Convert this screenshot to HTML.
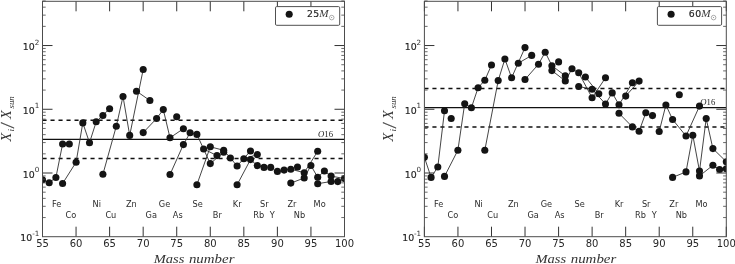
<!DOCTYPE html>
<html><head><meta charset="utf-8"><title>Abundance plots</title>
<style>
html,body{margin:0;padding:0;background:#fff;}
body{width:735px;height:264px;overflow:hidden;}
svg{display:block;}
.tk{font-family:"DejaVu Sans","Liberation Sans",sans-serif;font-size:10px;fill:#262626;}
.tky{font-family:"DejaVu Sans","Liberation Sans",sans-serif;font-size:9.4px;fill:#222;stroke:#222;stroke-width:0.15px;}
.sup{font-family:"DejaVu Sans","Liberation Sans",sans-serif;font-size:7.2px;fill:#2e2e2e;}
.el{font-family:"DejaVu Sans","Liberation Sans",sans-serif;font-size:8.2px;fill:#2c2c2c;}
.lg{font-family:"DejaVu Sans","Liberation Sans",sans-serif;font-size:9.3px;letter-spacing:0.45px;fill:#262626;stroke:#262626;stroke-width:0.2px;}
.lgm{font-family:"Liberation Serif",serif;font-style:italic;font-size:10.6px;fill:#3a3a3a;}
.o16{font-family:"Liberation Serif",serif;font-size:8.7px;fill:#222;}
.ax{font-family:"Liberation Serif",serif;font-style:italic;font-size:13.6px;fill:#333;}
.sl{font-family:"Liberation Serif",serif;font-style:italic;font-size:19.4px;fill:#333;stroke:#333;stroke-width:0.25px;}
.axs{font-family:"Liberation Serif",serif;font-style:italic;font-size:8.8px;fill:#2a2a2a;}
.axl{font-family:"Liberation Serif",serif;font-style:italic;font-size:13.3px;fill:#333;}
</style></head><body>
<svg width="735" height="264" viewBox="0 0 735 264">
<rect width="735" height="264" fill="#fff"/>
<clipPath id="c42"><rect x="42.5" y="1.3" width="302.0" height="235.39999999999998"/></clipPath>
<g clip-path="url(#c42)">
<line x1="42.5" x2="344.5" y1="139.4" y2="139.4" stroke="#111" stroke-width="1.25"/>
<line x1="42.5" x2="344.5" y1="120.2" y2="120.2" stroke="#111" stroke-width="1.5" stroke-dasharray="4.1 3.9"/>
<line x1="42.5" x2="344.5" y1="158.6" y2="158.6" stroke="#111" stroke-width="1.5" stroke-dasharray="4.1 3.9"/>
<polyline points="42.5,179.7 49.2,182.7 55.9,177.5 62.6,144.0" fill="none" stroke="#303030" stroke-width="0.9"/>
<polyline points="62.6,183.5 76.1,162.2 82.8,122.9 89.5,142.7 96.2,121.8 109.6,108.7" fill="none" stroke="#303030" stroke-width="0.9"/>
<polyline points="102.9,174.3 116.3,126.2 123.0,96.5 129.7,135.4 143.2,69.5" fill="none" stroke="#303030" stroke-width="0.9"/>
<polyline points="136.5,91.2 149.9,100.5" fill="none" stroke="#303030" stroke-width="0.9"/>
<polyline points="143.2,132.6 156.6,118.5 163.3,109.6 170.0,137.8 183.4,128.7" fill="none" stroke="#303030" stroke-width="0.9"/>
<polyline points="170.0,174.5 183.4,144.6 190.1,132.8 196.9,134.4 210.3,163.6 223.7,152.2" fill="none" stroke="#303030" stroke-width="0.9"/>
<polyline points="203.6,149.0 217.0,155.6" fill="none" stroke="#303030" stroke-width="0.9"/>
<polyline points="196.9,184.7 210.3,146.8 223.7,150.3 230.4,158.0 237.1,166.0 250.5,151.0" fill="none" stroke="#303030" stroke-width="0.9"/>
<polyline points="243.8,158.8 257.3,154.6" fill="none" stroke="#303030" stroke-width="0.9"/>
<polyline points="237.1,184.8 250.5,159.6 257.3,165.6 264.0,167.4" fill="none" stroke="#303030" stroke-width="0.9"/>
<polyline points="277.4,171.4 284.1,170.1 290.8,169.2 304.2,172.7 317.7,151.3" fill="none" stroke="#303030" stroke-width="0.9"/>
<polyline points="290.8,183.1 304.2,178.0 310.9,165.5 317.7,177.3 324.4,171.0 331.1,176.1 344.5,178.6" fill="none" stroke="#303030" stroke-width="0.9"/>
<polyline points="317.7,183.7 331.1,181.5 337.8,181.6 344.5,178.6" fill="none" stroke="#303030" stroke-width="0.9"/>
<circle cx="42.5" cy="179.7" r="3.55" fill="#141414"/>
<circle cx="49.2" cy="182.7" r="3.55" fill="#141414"/>
<circle cx="55.9" cy="177.5" r="3.55" fill="#141414"/>
<circle cx="62.6" cy="144.0" r="3.55" fill="#141414"/>
<circle cx="62.6" cy="183.5" r="3.55" fill="#141414"/>
<circle cx="69.3" cy="144.0" r="3.55" fill="#141414"/>
<circle cx="76.1" cy="162.2" r="3.55" fill="#141414"/>
<circle cx="82.8" cy="122.9" r="3.55" fill="#141414"/>
<circle cx="89.5" cy="142.7" r="3.55" fill="#141414"/>
<circle cx="96.2" cy="121.8" r="3.55" fill="#141414"/>
<circle cx="102.9" cy="115.5" r="3.55" fill="#141414"/>
<circle cx="102.9" cy="174.3" r="3.55" fill="#141414"/>
<circle cx="109.6" cy="108.7" r="3.55" fill="#141414"/>
<circle cx="116.3" cy="126.2" r="3.55" fill="#141414"/>
<circle cx="123.0" cy="96.5" r="3.55" fill="#141414"/>
<circle cx="129.7" cy="135.4" r="3.55" fill="#141414"/>
<circle cx="136.5" cy="91.2" r="3.55" fill="#141414"/>
<circle cx="143.2" cy="69.5" r="3.55" fill="#141414"/>
<circle cx="143.2" cy="132.6" r="3.55" fill="#141414"/>
<circle cx="149.9" cy="100.5" r="3.55" fill="#141414"/>
<circle cx="156.6" cy="118.5" r="3.55" fill="#141414"/>
<circle cx="163.3" cy="109.6" r="3.55" fill="#141414"/>
<circle cx="170.0" cy="137.8" r="3.55" fill="#141414"/>
<circle cx="170.0" cy="174.5" r="3.55" fill="#141414"/>
<circle cx="176.7" cy="116.7" r="3.55" fill="#141414"/>
<circle cx="183.4" cy="128.7" r="3.55" fill="#141414"/>
<circle cx="183.4" cy="144.6" r="3.55" fill="#141414"/>
<circle cx="190.1" cy="132.8" r="3.55" fill="#141414"/>
<circle cx="196.9" cy="134.4" r="3.55" fill="#141414"/>
<circle cx="196.9" cy="184.7" r="3.55" fill="#141414"/>
<circle cx="203.6" cy="149.0" r="3.55" fill="#141414"/>
<circle cx="210.3" cy="146.8" r="3.55" fill="#141414"/>
<circle cx="210.3" cy="163.6" r="3.55" fill="#141414"/>
<circle cx="217.0" cy="155.6" r="3.55" fill="#141414"/>
<circle cx="223.7" cy="150.3" r="3.55" fill="#141414"/>
<circle cx="223.7" cy="152.2" r="3.55" fill="#141414"/>
<circle cx="230.4" cy="158.0" r="3.55" fill="#141414"/>
<circle cx="237.1" cy="166.0" r="3.55" fill="#141414"/>
<circle cx="237.1" cy="184.8" r="3.55" fill="#141414"/>
<circle cx="243.8" cy="158.8" r="3.55" fill="#141414"/>
<circle cx="250.5" cy="151.0" r="3.55" fill="#141414"/>
<circle cx="250.5" cy="159.6" r="3.55" fill="#141414"/>
<circle cx="257.3" cy="154.6" r="3.55" fill="#141414"/>
<circle cx="257.3" cy="165.6" r="3.55" fill="#141414"/>
<circle cx="264.0" cy="167.4" r="3.55" fill="#141414"/>
<circle cx="270.7" cy="167.4" r="3.55" fill="#141414"/>
<circle cx="277.4" cy="171.4" r="3.55" fill="#141414"/>
<circle cx="284.1" cy="170.1" r="3.55" fill="#141414"/>
<circle cx="290.8" cy="169.2" r="3.55" fill="#141414"/>
<circle cx="290.8" cy="183.1" r="3.55" fill="#141414"/>
<circle cx="297.5" cy="167.0" r="3.55" fill="#141414"/>
<circle cx="304.2" cy="172.7" r="3.55" fill="#141414"/>
<circle cx="304.2" cy="178.0" r="3.55" fill="#141414"/>
<circle cx="310.9" cy="165.5" r="3.55" fill="#141414"/>
<circle cx="317.7" cy="151.3" r="3.55" fill="#141414"/>
<circle cx="317.7" cy="177.3" r="3.55" fill="#141414"/>
<circle cx="317.7" cy="183.7" r="3.55" fill="#141414"/>
<circle cx="324.4" cy="171.0" r="3.55" fill="#141414"/>
<circle cx="331.1" cy="176.1" r="3.55" fill="#141414"/>
<circle cx="331.1" cy="181.5" r="3.55" fill="#141414"/>
<circle cx="337.8" cy="181.6" r="3.55" fill="#141414"/>
<circle cx="344.5" cy="178.6" r="3.55" fill="#141414"/>
</g>
<path d="M42.50 236.7v-10M42.50 1.3v10 M76.06 236.7v-10M76.06 1.3v10 M109.61 236.7v-10M109.61 1.3v10 M143.17 236.7v-10M143.17 1.3v10 M176.72 236.7v-10M176.72 1.3v10 M210.28 236.7v-10M210.28 1.3v10 M243.83 236.7v-10M243.83 1.3v10 M277.39 236.7v-10M277.39 1.3v10 M310.94 236.7v-10M310.94 1.3v10 M344.50 236.7v-10M344.50 1.3v10" stroke="#333" stroke-width="1" fill="none"/>
<path d="M42.5 173.00h10M344.5 173.00h-10 M42.5 109.27h10M344.5 109.27h-10 M42.5 45.54h10M344.5 45.54h-10" stroke="#333" stroke-width="1" fill="none"/>
<path d="M42.5 217.55h3.2M344.5 217.55h-3.2 M42.5 206.32h3.2M344.5 206.32h-3.2 M42.5 198.36h3.2M344.5 198.36h-3.2 M42.5 192.18h3.2M344.5 192.18h-3.2 M42.5 187.14h3.2M344.5 187.14h-3.2 M42.5 182.87h3.2M344.5 182.87h-3.2 M42.5 179.18h3.2M344.5 179.18h-3.2 M42.5 175.92h3.2M344.5 175.92h-3.2 M42.5 153.82h3.2M344.5 153.82h-3.2 M42.5 142.59h3.2M344.5 142.59h-3.2 M42.5 134.63h3.2M344.5 134.63h-3.2 M42.5 128.45h3.2M344.5 128.45h-3.2 M42.5 123.41h3.2M344.5 123.41h-3.2 M42.5 119.14h3.2M344.5 119.14h-3.2 M42.5 115.45h3.2M344.5 115.45h-3.2 M42.5 112.19h3.2M344.5 112.19h-3.2 M42.5 90.09h3.2M344.5 90.09h-3.2 M42.5 78.86h3.2M344.5 78.86h-3.2 M42.5 70.90h3.2M344.5 70.90h-3.2 M42.5 64.72h3.2M344.5 64.72h-3.2 M42.5 59.68h3.2M344.5 59.68h-3.2 M42.5 55.41h3.2M344.5 55.41h-3.2 M42.5 51.72h3.2M344.5 51.72h-3.2 M42.5 48.46h3.2M344.5 48.46h-3.2 M42.5 26.36h3.2M344.5 26.36h-3.2 M42.5 15.13h3.2M344.5 15.13h-3.2 M42.5 7.17h3.2M344.5 7.17h-3.2 M42.5 0.99h3.2M344.5 0.99h-3.2" stroke="#444" stroke-width="0.8" fill="none"/>
<rect x="42.5" y="1.3" width="302.0" height="235.39999999999998" fill="none" stroke="#4c4c4c" stroke-width="1"/>
<text x="42.5" y="247.2" text-anchor="middle" class="tk">55</text>
<text x="76.1" y="247.2" text-anchor="middle" class="tk">60</text>
<text x="109.6" y="247.2" text-anchor="middle" class="tk">65</text>
<text x="143.2" y="247.2" text-anchor="middle" class="tk">70</text>
<text x="176.7" y="247.2" text-anchor="middle" class="tk">75</text>
<text x="210.3" y="247.2" text-anchor="middle" class="tk">80</text>
<text x="243.8" y="247.2" text-anchor="middle" class="tk">85</text>
<text x="277.4" y="247.2" text-anchor="middle" class="tk">90</text>
<text x="310.9" y="247.2" text-anchor="middle" class="tk">95</text>
<text x="344.5" y="247.2" text-anchor="middle" class="tk">100</text>
<text x="32.3" y="241.3" text-anchor="end" class="tky">10</text>
<text x="39.3" y="235.8" text-anchor="end" class="sup">-1</text>
<text x="34.8" y="177.6" text-anchor="end" class="tky">10</text>
<text x="39.3" y="172.1" text-anchor="end" class="sup">0</text>
<text x="34.8" y="113.9" text-anchor="end" class="tky">10</text>
<text x="39.3" y="108.4" text-anchor="end" class="sup">1</text>
<text x="34.8" y="50.1" text-anchor="end" class="tky">10</text>
<text x="39.3" y="44.6" text-anchor="end" class="sup">2</text>
<text x="52.0" y="207.0" class="el">Fe</text>
<text x="65.6" y="218.0" class="el">Co</text>
<text x="92.6" y="207.0" class="el">Ni</text>
<text x="105.4" y="218.0" class="el">Cu</text>
<text x="126.0" y="207.0" class="el">Zn</text>
<text x="145.6" y="218.0" class="el">Ga</text>
<text x="158.8" y="207.0" class="el">Ge</text>
<text x="172.8" y="218.0" class="el">As</text>
<text x="192.6" y="207.0" class="el">Se</text>
<text x="212.8" y="218.0" class="el">Br</text>
<text x="232.8" y="207.0" class="el">Kr</text>
<text x="253.2" y="218.0" class="el">Rb</text>
<text x="260.0" y="207.0" class="el">Sr</text>
<text x="269.8" y="218.0" class="el">Y</text>
<text x="287.4" y="207.0" class="el">Zr</text>
<text x="293.8" y="218.0" class="el">Nb</text>
<text x="313.6" y="207.0" class="el">Mo</text>
<text x="318.0" y="136.7" class="o16"><tspan font-style="italic">O</tspan>16</text>
<rect x="275.5" y="6.6" width="64.2" height="18.7" rx="1.2" fill="#fff" stroke="#505050" stroke-width="1"/>
<circle cx="289.2" cy="14.2" r="3.55" fill="#141414"/>
<text x="306.9" y="17.3" class="lg">25</text>
<text x="319.3" y="17.4" class="lgm" textLength="9.3" lengthAdjust="spacingAndGlyphs">M</text>
<circle cx="331.7" cy="17.6" r="2.3" fill="none" stroke="#777" stroke-width="0.6"/>
<circle cx="331.7" cy="17.6" r="0.5" fill="#777"/>
<g transform="translate(10.6,142.0) rotate(-90)"><text x="0.5" y="0" class="ax" textLength="8.7" lengthAdjust="spacingAndGlyphs">X</text><text x="10.4" y="3.4" class="axs">i</text><text x="14.2" y="3.5" class="sl" textLength="4.3" lengthAdjust="spacingAndGlyphs">/</text><text x="22.9" y="0" class="ax" textLength="8.7" lengthAdjust="spacingAndGlyphs">X</text><text x="33.5" y="3.4" class="axs">sun</text></g>
<text x="153.7" y="262.7" class="axl" textLength="30.6" lengthAdjust="spacingAndGlyphs">Mass</text>
<text x="188.9" y="262.7" class="axl" textLength="45.6" lengthAdjust="spacingAndGlyphs">number</text>
<clipPath id="c424"><rect x="424.4" y="1.3" width="301.9" height="235.39999999999998"/></clipPath>
<g clip-path="url(#c424)">
<line x1="424.4" x2="726.3" y1="107.65" y2="107.65" stroke="#111" stroke-width="1.25"/>
<line x1="424.4" x2="726.3" y1="88.5" y2="88.5" stroke="#111" stroke-width="1.5" stroke-dasharray="4.1 3.9"/>
<line x1="424.4" x2="726.3" y1="126.9" y2="126.9" stroke="#111" stroke-width="1.5" stroke-dasharray="4.1 3.9"/>
<polyline points="424.4,157.3 431.1,177.4 437.8,167.0 444.5,110.8" fill="none" stroke="#303030" stroke-width="0.9"/>
<polyline points="444.5,176.4 457.9,150.2 464.7,103.7 471.4,107.7 478.1,87.7 484.8,80.3 491.5,65.0" fill="none" stroke="#303030" stroke-width="0.9"/>
<polyline points="484.8,150.3 498.2,80.6 504.9,59.0 511.6,77.8 525.0,47.6" fill="none" stroke="#303030" stroke-width="0.9"/>
<polyline points="518.3,63.2 531.7,55.4" fill="none" stroke="#303030" stroke-width="0.9"/>
<polyline points="525.0,79.5 538.5,64.2 545.2,52.2 551.9,65.7 565.3,75.8" fill="none" stroke="#303030" stroke-width="0.9"/>
<polyline points="551.9,70.6 565.3,80.9 572.0,68.8 578.7,72.8 592.1,97.8 605.5,77.8" fill="none" stroke="#303030" stroke-width="0.9"/>
<polyline points="585.4,77.0 598.8,93.7" fill="none" stroke="#303030" stroke-width="0.9"/>
<polyline points="578.7,86.5 592.1,89.2 605.5,104.0 612.2,92.9 619.0,104.8 632.4,82.7" fill="none" stroke="#303030" stroke-width="0.9"/>
<polyline points="625.7,96.1 639.1,81.1" fill="none" stroke="#303030" stroke-width="0.9"/>
<polyline points="619.0,113.3 632.4,126.9 639.1,131.3 645.8,112.8" fill="none" stroke="#303030" stroke-width="0.9"/>
<polyline points="659.2,131.5 665.9,105.0 672.6,119.5 686.0,136.0 699.5,106.1" fill="none" stroke="#303030" stroke-width="0.9"/>
<polyline points="672.6,177.4 686.0,171.9 692.8,135.2 699.5,171.1 706.2,118.6 712.9,148.6 726.3,161.7" fill="none" stroke="#303030" stroke-width="0.9"/>
<polyline points="699.5,175.9 712.9,165.3 719.6,169.5 726.3,168.7" fill="none" stroke="#303030" stroke-width="0.9"/>
<circle cx="424.4" cy="157.3" r="3.55" fill="#141414"/>
<circle cx="431.1" cy="177.4" r="3.55" fill="#141414"/>
<circle cx="437.8" cy="167.0" r="3.55" fill="#141414"/>
<circle cx="444.5" cy="110.8" r="3.55" fill="#141414"/>
<circle cx="444.5" cy="176.4" r="3.55" fill="#141414"/>
<circle cx="451.2" cy="118.5" r="3.55" fill="#141414"/>
<circle cx="457.9" cy="150.2" r="3.55" fill="#141414"/>
<circle cx="464.7" cy="103.7" r="3.55" fill="#141414"/>
<circle cx="471.4" cy="107.7" r="3.55" fill="#141414"/>
<circle cx="478.1" cy="87.7" r="3.55" fill="#141414"/>
<circle cx="484.8" cy="80.3" r="3.55" fill="#141414"/>
<circle cx="484.8" cy="150.3" r="3.55" fill="#141414"/>
<circle cx="491.5" cy="65.0" r="3.55" fill="#141414"/>
<circle cx="498.2" cy="80.6" r="3.55" fill="#141414"/>
<circle cx="504.9" cy="59.0" r="3.55" fill="#141414"/>
<circle cx="511.6" cy="77.8" r="3.55" fill="#141414"/>
<circle cx="518.3" cy="63.2" r="3.55" fill="#141414"/>
<circle cx="525.0" cy="47.6" r="3.55" fill="#141414"/>
<circle cx="525.0" cy="79.5" r="3.55" fill="#141414"/>
<circle cx="531.7" cy="55.4" r="3.55" fill="#141414"/>
<circle cx="538.5" cy="64.2" r="3.55" fill="#141414"/>
<circle cx="545.2" cy="52.2" r="3.55" fill="#141414"/>
<circle cx="551.9" cy="65.7" r="3.55" fill="#141414"/>
<circle cx="551.9" cy="70.6" r="3.55" fill="#141414"/>
<circle cx="558.6" cy="61.9" r="3.55" fill="#141414"/>
<circle cx="565.3" cy="75.8" r="3.55" fill="#141414"/>
<circle cx="565.3" cy="80.9" r="3.55" fill="#141414"/>
<circle cx="572.0" cy="68.8" r="3.55" fill="#141414"/>
<circle cx="578.7" cy="72.8" r="3.55" fill="#141414"/>
<circle cx="578.7" cy="86.5" r="3.55" fill="#141414"/>
<circle cx="585.4" cy="77.0" r="3.55" fill="#141414"/>
<circle cx="592.1" cy="89.2" r="3.55" fill="#141414"/>
<circle cx="592.1" cy="97.8" r="3.55" fill="#141414"/>
<circle cx="598.8" cy="93.7" r="3.55" fill="#141414"/>
<circle cx="605.5" cy="77.8" r="3.55" fill="#141414"/>
<circle cx="605.5" cy="104.0" r="3.55" fill="#141414"/>
<circle cx="612.2" cy="92.9" r="3.55" fill="#141414"/>
<circle cx="619.0" cy="104.8" r="3.55" fill="#141414"/>
<circle cx="619.0" cy="113.3" r="3.55" fill="#141414"/>
<circle cx="625.7" cy="96.1" r="3.55" fill="#141414"/>
<circle cx="632.4" cy="82.7" r="3.55" fill="#141414"/>
<circle cx="632.4" cy="126.9" r="3.55" fill="#141414"/>
<circle cx="639.1" cy="81.1" r="3.55" fill="#141414"/>
<circle cx="639.1" cy="131.3" r="3.55" fill="#141414"/>
<circle cx="645.8" cy="112.8" r="3.55" fill="#141414"/>
<circle cx="652.5" cy="115.6" r="3.55" fill="#141414"/>
<circle cx="659.2" cy="131.5" r="3.55" fill="#141414"/>
<circle cx="665.9" cy="105.0" r="3.55" fill="#141414"/>
<circle cx="672.6" cy="119.5" r="3.55" fill="#141414"/>
<circle cx="672.6" cy="177.4" r="3.55" fill="#141414"/>
<circle cx="679.3" cy="94.8" r="3.55" fill="#141414"/>
<circle cx="686.0" cy="136.0" r="3.55" fill="#141414"/>
<circle cx="686.0" cy="171.9" r="3.55" fill="#141414"/>
<circle cx="692.8" cy="135.2" r="3.55" fill="#141414"/>
<circle cx="699.5" cy="106.1" r="3.55" fill="#141414"/>
<circle cx="699.5" cy="171.1" r="3.55" fill="#141414"/>
<circle cx="699.5" cy="175.9" r="3.55" fill="#141414"/>
<circle cx="706.2" cy="118.6" r="3.55" fill="#141414"/>
<circle cx="712.9" cy="148.6" r="3.55" fill="#141414"/>
<circle cx="712.9" cy="165.3" r="3.55" fill="#141414"/>
<circle cx="719.6" cy="169.5" r="3.55" fill="#141414"/>
<circle cx="726.3" cy="161.7" r="3.55" fill="#141414"/>
<circle cx="726.3" cy="168.7" r="3.55" fill="#141414"/>
</g>
<path d="M424.40 236.7v-10M424.40 1.3v10 M457.94 236.7v-10M457.94 1.3v10 M491.49 236.7v-10M491.49 1.3v10 M525.03 236.7v-10M525.03 1.3v10 M558.58 236.7v-10M558.58 1.3v10 M592.12 236.7v-10M592.12 1.3v10 M625.67 236.7v-10M625.67 1.3v10 M659.21 236.7v-10M659.21 1.3v10 M692.76 236.7v-10M692.76 1.3v10 M726.30 236.7v-10M726.30 1.3v10" stroke="#333" stroke-width="1" fill="none"/>
<path d="M424.4 173.00h10M726.3 173.00h-10 M424.4 109.27h10M726.3 109.27h-10 M424.4 45.54h10M726.3 45.54h-10" stroke="#333" stroke-width="1" fill="none"/>
<path d="M424.4 217.55h3.2M726.3 217.55h-3.2 M424.4 206.32h3.2M726.3 206.32h-3.2 M424.4 198.36h3.2M726.3 198.36h-3.2 M424.4 192.18h3.2M726.3 192.18h-3.2 M424.4 187.14h3.2M726.3 187.14h-3.2 M424.4 182.87h3.2M726.3 182.87h-3.2 M424.4 179.18h3.2M726.3 179.18h-3.2 M424.4 175.92h3.2M726.3 175.92h-3.2 M424.4 153.82h3.2M726.3 153.82h-3.2 M424.4 142.59h3.2M726.3 142.59h-3.2 M424.4 134.63h3.2M726.3 134.63h-3.2 M424.4 128.45h3.2M726.3 128.45h-3.2 M424.4 123.41h3.2M726.3 123.41h-3.2 M424.4 119.14h3.2M726.3 119.14h-3.2 M424.4 115.45h3.2M726.3 115.45h-3.2 M424.4 112.19h3.2M726.3 112.19h-3.2 M424.4 90.09h3.2M726.3 90.09h-3.2 M424.4 78.86h3.2M726.3 78.86h-3.2 M424.4 70.90h3.2M726.3 70.90h-3.2 M424.4 64.72h3.2M726.3 64.72h-3.2 M424.4 59.68h3.2M726.3 59.68h-3.2 M424.4 55.41h3.2M726.3 55.41h-3.2 M424.4 51.72h3.2M726.3 51.72h-3.2 M424.4 48.46h3.2M726.3 48.46h-3.2 M424.4 26.36h3.2M726.3 26.36h-3.2 M424.4 15.13h3.2M726.3 15.13h-3.2 M424.4 7.17h3.2M726.3 7.17h-3.2 M424.4 0.99h3.2M726.3 0.99h-3.2" stroke="#444" stroke-width="0.8" fill="none"/>
<rect x="424.4" y="1.3" width="301.9" height="235.39999999999998" fill="none" stroke="#4c4c4c" stroke-width="1"/>
<text x="424.4" y="247.2" text-anchor="middle" class="tk">55</text>
<text x="457.9" y="247.2" text-anchor="middle" class="tk">60</text>
<text x="491.5" y="247.2" text-anchor="middle" class="tk">65</text>
<text x="525.0" y="247.2" text-anchor="middle" class="tk">70</text>
<text x="558.6" y="247.2" text-anchor="middle" class="tk">75</text>
<text x="592.1" y="247.2" text-anchor="middle" class="tk">80</text>
<text x="625.7" y="247.2" text-anchor="middle" class="tk">85</text>
<text x="659.2" y="247.2" text-anchor="middle" class="tk">90</text>
<text x="692.8" y="247.2" text-anchor="middle" class="tk">95</text>
<text x="726.3" y="247.2" text-anchor="middle" class="tk">100</text>
<text x="414.2" y="241.3" text-anchor="end" class="tky">10</text>
<text x="421.2" y="235.8" text-anchor="end" class="sup">-1</text>
<text x="416.8" y="177.6" text-anchor="end" class="tky">10</text>
<text x="421.2" y="172.1" text-anchor="end" class="sup">0</text>
<text x="416.8" y="113.9" text-anchor="end" class="tky">10</text>
<text x="421.2" y="108.4" text-anchor="end" class="sup">1</text>
<text x="416.8" y="50.1" text-anchor="end" class="tky">10</text>
<text x="421.2" y="44.6" text-anchor="end" class="sup">2</text>
<text x="433.9" y="207.0" class="el">Fe</text>
<text x="447.5" y="218.0" class="el">Co</text>
<text x="474.5" y="207.0" class="el">Ni</text>
<text x="487.3" y="218.0" class="el">Cu</text>
<text x="507.9" y="207.0" class="el">Zn</text>
<text x="527.5" y="218.0" class="el">Ga</text>
<text x="540.7" y="207.0" class="el">Ge</text>
<text x="554.7" y="218.0" class="el">As</text>
<text x="574.5" y="207.0" class="el">Se</text>
<text x="594.7" y="218.0" class="el">Br</text>
<text x="614.7" y="207.0" class="el">Kr</text>
<text x="635.1" y="218.0" class="el">Rb</text>
<text x="641.9" y="207.0" class="el">Sr</text>
<text x="651.7" y="218.0" class="el">Y</text>
<text x="669.3" y="207.0" class="el">Zr</text>
<text x="675.7" y="218.0" class="el">Nb</text>
<text x="695.5" y="207.0" class="el">Mo</text>
<text x="700.3" y="104.5" class="o16"><tspan font-style="italic">O</tspan>16</text>
<rect x="657.4" y="6.6" width="64.2" height="18.7" rx="1.2" fill="#fff" stroke="#505050" stroke-width="1"/>
<circle cx="671.1" cy="14.2" r="3.55" fill="#141414"/>
<text x="688.8" y="17.3" class="lg">60</text>
<text x="701.2" y="17.4" class="lgm" textLength="9.3" lengthAdjust="spacingAndGlyphs">M</text>
<circle cx="713.6" cy="17.6" r="2.3" fill="none" stroke="#777" stroke-width="0.6"/>
<circle cx="713.6" cy="17.6" r="0.5" fill="#777"/>
<g transform="translate(392.5,142.0) rotate(-90)"><text x="0.5" y="0" class="ax" textLength="8.7" lengthAdjust="spacingAndGlyphs">X</text><text x="10.4" y="3.4" class="axs">i</text><text x="14.2" y="3.5" class="sl" textLength="4.3" lengthAdjust="spacingAndGlyphs">/</text><text x="22.9" y="0" class="ax" textLength="8.7" lengthAdjust="spacingAndGlyphs">X</text><text x="33.5" y="3.4" class="axs">sun</text></g>
<text x="535.5" y="262.7" class="axl" textLength="30.6" lengthAdjust="spacingAndGlyphs">Mass</text>
<text x="570.7" y="262.7" class="axl" textLength="45.6" lengthAdjust="spacingAndGlyphs">number</text>
</svg>
</body></html>
